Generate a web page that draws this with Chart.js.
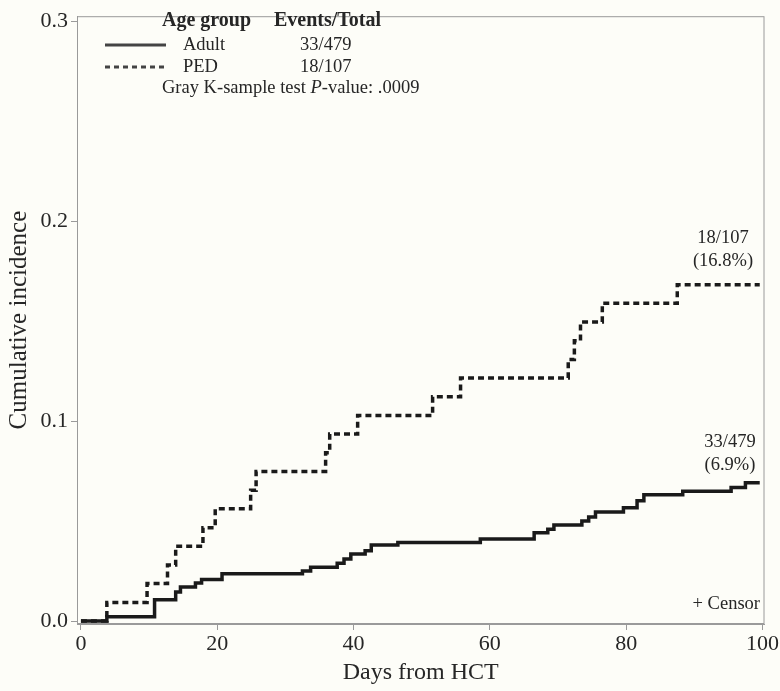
<!DOCTYPE html>
<html lang="en">
<head>
<meta charset="UTF-8">
<title>Cumulative incidence by age group</title>
<script src="https://cdn.jsdelivr.net/npm/chart.js@4.4.1/dist/chart.umd.min.js"></script>
<style>
  html, body { margin: 0; padding: 0; background: #fdfdf8; }
  #wrap { position: relative; width: 780px; height: 691px; }
</style>
</head>
<body>
<div id="wrap"><canvas id="chart"></canvas></div>
<script>
// values (day of event, cumulative incidence after it)
const adultDays = [0, 3.8, 10.8, 13.9, 14.6, 16.8, 17.7, 20.7, 32.5, 33.7, 37.6, 38.6, 39.6, 41.7, 42.6, 46.5, 58.6, 66.5, 68.5, 69.4, 73.5, 74.5, 75.5, 79.6, 81.6, 82.6, 88.3, 95.4, 97.5, 99.6]
const adultInc = [0, 0.0021, 0.0106, 0.0145, 0.017, 0.019, 0.0208, 0.0236, 0.025, 0.0269, 0.0289, 0.031, 0.0335, 0.0351, 0.038, 0.0393, 0.041, 0.0442, 0.0459, 0.048, 0.05, 0.052, 0.0545, 0.0566, 0.0602, 0.0632, 0.0649, 0.0668, 0.0692, 0.0692]
const pedDays = [0, 3.8, 9.7, 12.7, 13.9, 17.9, 19.7, 24.9, 25.7, 35.9, 36.5, 40.6, 51.6, 55.7, 71.5, 72.4, 73.3, 76.5, 87.5, 99.6]
const pedInc = [0, 0.0093, 0.0187, 0.028, 0.0374, 0.0467, 0.0561, 0.0654, 0.0748, 0.0841, 0.0935, 0.1028, 0.1121, 0.1215, 0.1308, 0.1402, 0.1495, 0.1589, 0.1682, 0.1682]
const xTicks = [0, 20, 40, 60, 80, 100]
const yTicks = [0, 0.1, 0.2, 0.3]

const SERIF = '"Liberation Serif", "DejaVu Serif", serif'
const INK = '#262626'

function toPoints(xs, ys) {
  return xs.map((x, i) => ({ x: x, y: ys[i] }))
}

// frame, legend block and end-of-curve labels
const decor = {
  id: 'decor',
  afterDraw(chart) {
    const ctx = chart.ctx
    const a = chart.chartArea
    ctx.save()
    ctx.strokeStyle = '#9a9a9a'
    ctx.lineWidth = 1
    ctx.strokeRect(a.left + 0.5, a.top + 0.5, a.right - a.left - 1, a.bottom - a.top - 1)

    ctx.fillStyle = INK
    ctx.textBaseline = 'middle'
    ctx.textAlign = 'left'
    ctx.font = 'bold 20px ' + SERIF
    ctx.fillText('Age group', 162, 21)
    ctx.fillText('Events/Total', 274, 21)

    ctx.strokeStyle = '#444'
    ctx.lineWidth = 3
    ctx.beginPath(); ctx.moveTo(105, 45); ctx.lineTo(166, 45); ctx.stroke()
    ctx.setLineDash([5, 4])
    ctx.beginPath(); ctx.moveTo(105, 67); ctx.lineTo(166, 67); ctx.stroke()
    ctx.setLineDash([])

    ctx.font = '18.5px ' + SERIF
    ctx.fillText('Adult', 183, 45)
    ctx.fillText('33/479', 300, 45)
    ctx.fillText('PED', 183, 67)
    ctx.fillText('18/107', 300, 67)

    const pre = 'Gray K-sample test '
    ctx.fillText(pre, 162, 88)
    let px = 162 + ctx.measureText(pre).width
    ctx.font = 'italic 18.5px ' + SERIF
    ctx.fillText('P', px, 88)
    px += ctx.measureText('P').width
    ctx.font = '18.5px ' + SERIF
    ctx.fillText('-value: .0009', px, 88)

    ctx.textAlign = 'center'
    ctx.fillText('18/107', 723, 238)
    ctx.fillText('(16.8%)', 723, 261)
    ctx.fillText('33/479', 730, 442)
    ctx.fillText('(6.9%)', 730, 465)
    ctx.textAlign = 'right'
    ctx.fillText('+ Censor', 760, 604)
    ctx.restore()
  }
}

new Chart(document.getElementById('chart'), {
  type: 'line',
  data: {
    datasets: [
      {
        label: 'Adult',
        data: toPoints(adultDays, adultInc),
        stepped: true,
        borderColor: '#1a1a1a',
        borderWidth: 3.5,
        pointRadius: 0,
        fill: false
      },
      {
        label: 'PED',
        data: toPoints(pedDays, pedInc),
        stepped: true,
        borderColor: '#1a1a1a',
        borderWidth: 3.5,
        borderDash: [6, 4],
        pointRadius: 0,
        fill: false
      }
    ]
  },
  options: {
    responsive: true,
    maintainAspectRatio: false,
    animation: false,
    layout: { padding: { top: 10, right: 13, left: 0, bottom: 0 } },
    plugins: { legend: { display: false }, tooltip: { enabled: false } },
    scales: {
      x: {
        type: 'linear',
        min: -0.58,
        max: 100.3,
        afterBuildTicks: s => { s.ticks = xTicks.map(v => ({ value: v })) },
        afterFit: s => { s.height = 67 },
        grid: { drawOnChartArea: false, tickLength: 6, color: '#9a9a9a' },
        border: { color: '#9a9a9a' },
        ticks: { color: INK, font: { family: SERIF, size: 22 }, padding: 1, maxRotation: 0 },
        title: { display: true, text: 'Days from HCT', color: INK, font: { family: SERIF, size: 24 }, padding: { top: 0 } }
      },
      y: {
        min: -0.0015,
        max: 0.3025,
        afterBuildTicks: s => { s.ticks = yTicks.map(v => ({ value: v })) },
        afterFit: s => { s.width = 77 },
        grid: { drawOnChartArea: false, tickLength: 6, color: '#9a9a9a' },
        border: { color: '#9a9a9a' },
        ticks: { color: INK, font: { family: SERIF, size: 22 }, padding: 3, callback: v => v.toFixed(1) },
        title: { display: true, text: 'Cumulative incidence', color: INK, font: { family: SERIF, size: 25 }, padding: { bottom: 0 } }
      }
    }
  },
  plugins: [decor]
})
</script>
</body>
</html>
